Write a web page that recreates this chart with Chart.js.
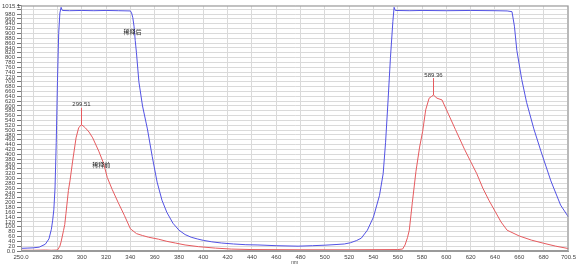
<!DOCTYPE html>
<html><head><meta charset="utf-8">
<script src="https://cdn.jsdelivr.net/npm/chart.js@4/dist/chart.umd.min.js"></script>
<style>html,body{margin:0;padding:0;background:#fff;overflow:hidden}#wrap{width:579px;height:266px;position:relative}</style>
</head><body><div id="wrap"><canvas id="c" width="579" height="266"></canvas></div>
<script>
const blueX=[250,255,260,265,270,273,275,276,277,278,279,280,281,282,283,284,290,300,310,320,330,340,341,342,343,344,345,347,350,354,358,362,366,370,375,380,385,390,395,400,407,415,425,435,445,460,478,490,500,510,516,521,526,530,535,540,545,548,550,552,554,556,557,558,570,580,600,620,640,650,654,656,658,662,666,672,678,686,694,700.5];
const blueY=[11,12,13,16,28,50,90,125,170,260,450,700,900,985,1008,995,994,995,994,995,994,993,985,965,930,870,820,700,600,505,390,285,210,160,115,86,68,57,50,44,38,33,29,26,25,22,20,22,24,27,29,34,43,53,86,140,230,320,450,620,800,950,1008,995,994,995,994,995,994,993,990,930,830,710,615,505,410,290,190,140];
const redX=[250,260,270,275,280,282,283,285,286,287,289,290.3,292.5,295.3,297.4,299.5,301,303,306,309,314,318,321,325,330,335,340,345,350,355,363,370,377,385,396,410,423,440,480,520,560,564,566,568,569.5,572,575,578,580.5,583,585.8,588,589.4,592.3,596.4,602,607.5,615,620,625,630,635,640,645,650,660,670,680,690,700.5];
const redY=[3,3,4,3,4,20,38,85,110,155,250,290,372,468,509,522,518,509,492,468,413,362,304,255,200,148,92,72,64,57,49,40,33,25,18,12,8,6,5,5,6,8,25,55,86,200,330,430,495,584,632,640,645,632,625,563,502,420,370,320,260,210,165,120,86,62,45,32,20,10];
const xTicks=[250,260,280,300,320,340,360,380,400,420,440,460,480,500,520,540,560,580,600,620,640,660,680,700,700.5];
const yTicks=[0,20,40,60,80,100,120,140,160,180,200,220,240,260,280,300,320,340,360,380,400,420,440,460,480,500,520,540,560,580,600,620,640,660,680,700,720,740,760,780,800,820,840,860,880,900,920,940,960,980,1000,1015.1];
const yMaxLabel='1015.1';
const peakX=[299.51,589.36];
const peakY=[522,645];
const peakText=['299.51','589.36'];
const noteText=['稀释后','稀释前'];
const noteX=[341.7,316];
const noteY=[909,356];
const axisTitle='nm';

const BLUE='#5252e4', RED='#e65a5e';
const FONT='"Liberation Sans", Arial, sans-serif';

const pts=(xs,ys)=>xs.map((x,i)=>({x:x,y:ys[i]}));

const notes={
  id:'notes',
  afterDatasetsDraw(chart){
    const {ctx,scales:{x,y},chartArea:a}=chart;
    ctx.save();
    ctx.strokeStyle='#9a9a9a';ctx.lineWidth=1;
    ctx.strokeRect(a.left+0.5,a.top+0.5,a.right-a.left-1,a.bottom-a.top-1);
    ctx.font='6px '+FONT;ctx.fillStyle='#444';ctx.textAlign='left';ctx.textBaseline='middle';
    ctx.fillText(yMaxLabel,2,y.getPixelForValue(1015.1)+0.5);
    ctx.fillStyle='#333';ctx.textAlign='center';
    peakX.forEach((px,i)=>{
      const X=Math.round(x.getPixelForValue(px))+0.5, Y=y.getPixelForValue(peakY[i]);
      ctx.strokeStyle=RED;ctx.beginPath();ctx.moveTo(X,Y);ctx.lineTo(X,Y-17);ctx.stroke();
      ctx.fillText(peakText[i],X,Y-20);
    });
    ctx.font='6px "Noto Sans CJK SC", sans-serif';ctx.fillStyle='#222';
    noteText.forEach((t,i)=>{ctx.fillText(t,x.getPixelForValue(noteX[i]),y.getPixelForValue(noteY[i]));});
    ctx.restore();
  }
};

new Chart(document.getElementById('c'),{
  type:'line',
  data:{datasets:[
    {data:pts(blueX,blueY),borderColor:BLUE,borderWidth:1,pointRadius:0,tension:0,fill:false},
    {data:pts(redX,redY),borderColor:RED,borderWidth:1,pointRadius:0,tension:0,fill:false}
  ]},
  options:{
    responsive:false,animation:false,devicePixelRatio:1,
    layout:{padding:{top:3,right:8,left:0,bottom:0}},
    plugins:{legend:{display:false},tooltip:{enabled:false}},
    scales:{
      x:{type:'linear',min:250,max:700.5,
        afterBuildTicks(s){s.ticks=xTicks.map(v=>({value:v}));},
        afterFit(s){s.height=15;},
        grid:{color:'#dadada',tickLength:2,drawTicks:false},
        border:{color:'#9a9a9a'},
        ticks:{autoSkip:false,maxRotation:0,padding:3,color:'#444',font:{family:FONT,size:6},
          callback(v){if(v===250)return '250.0';if(v===260||v===700)return '';if(v===700.5)return '700.5';return String(v);}},
        title:{display:true,text:axisTitle,color:'#444',font:{family:FONT,size:5},padding:{top:0,bottom:0}}
      },
      y:{type:'linear',min:0,max:1015.1,
        afterBuildTicks(s){s.ticks=yTicks.map(v=>({value:v}));},
        afterFit(s){s.width=21;},
        grid:{color:'#dadada',tickLength:4,tickColor:'#777'},
        border:{color:'#9a9a9a'},
        ticks:{autoSkip:false,padding:2,color:'#444',font:{family:FONT,size:6},
          callback(v){if(v===0)return '0.0';if(v===1000||v===1015.1)return '';return String(v);}}
      }
    }
  },
  plugins:[notes]
});
</script></body></html>
